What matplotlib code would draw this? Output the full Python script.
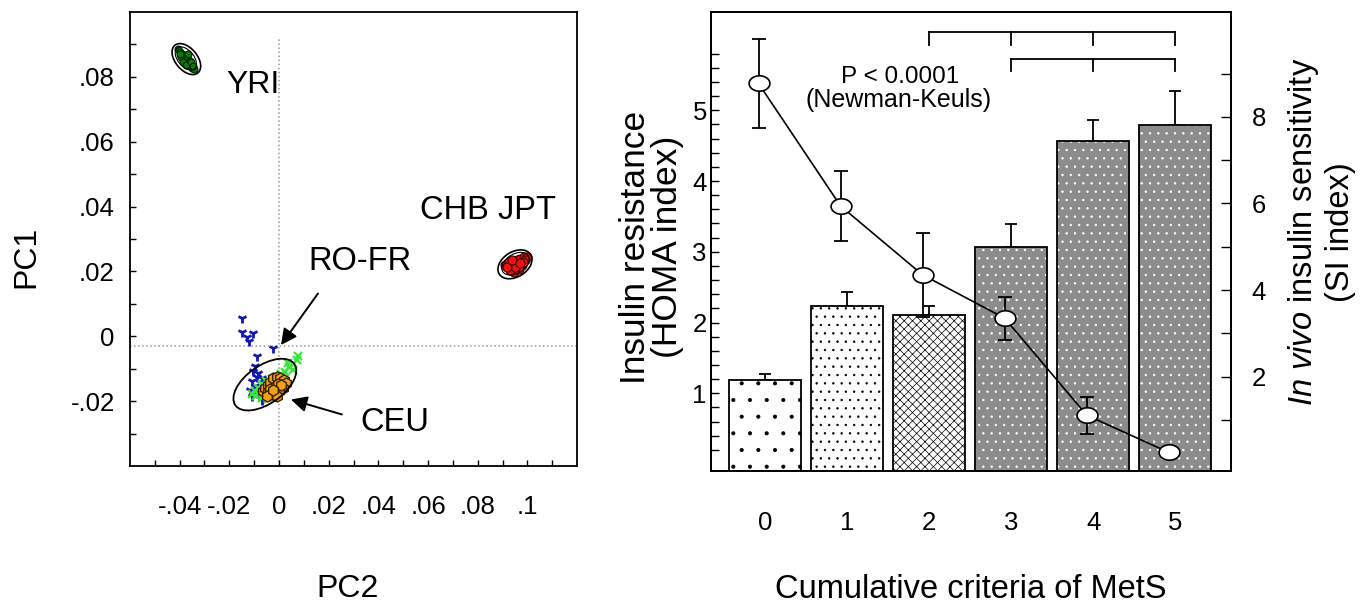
import numpy as np
import matplotlib
matplotlib.use('Agg')
import matplotlib.pyplot as plt
from matplotlib import transforms
from matplotlib.patches import Ellipse

plt.rcParams['font.family'] = ['Liberation Sans', 'DejaVu Sans']
plt.rcParams['mathtext.fontset'] = 'custom'
plt.rcParams['mathtext.rm'] = 'Liberation Sans'
plt.rcParams['mathtext.it'] = 'Liberation Sans:italic'
plt.rcParams['hatch.linewidth'] = 0.5

# ---- left panel: PCA (PC2 on x, PC1 on y) ----
yri_x = [-0.0405, -0.0398, -0.0390, -0.0385, -0.0378, -0.0372, -0.0365, -0.0358, -0.0350, -0.0342,
         -0.0395, -0.0380, -0.0370, -0.0360, -0.0385, -0.0375, -0.0355, -0.0345, -0.0400, -0.0368]
yri_y = [0.0885, 0.0878, 0.0870, 0.0862, 0.0855, 0.0848, 0.0840, 0.0835, 0.0828, 0.0825,
         0.0860, 0.0868, 0.0860, 0.0850, 0.0845, 0.0838, 0.0845, 0.0835, 0.0870, 0.0872]

chb_x = [0.0911, 0.0925, 0.0938, 0.0945, 0.0958, 0.0972, 0.0985, 0.0999, 0.0979,
         0.0965, 0.0945, 0.0929, 0.0952, 0.0992, 0.0983, 0.0918, 0.0938, 0.0969]
chb_y = [0.0219, 0.0229, 0.0214, 0.0226, 0.0234, 0.0239, 0.0244, 0.0246, 0.0219,
         0.0208, 0.0198, 0.0203, 0.0215, 0.0234, 0.0229, 0.0214, 0.0234, 0.0226]

# RO-FR samples (blue)
rofr_x = [-0.0150, -0.0150, -0.0130, -0.0121, -0.0104, -0.0023, -0.0090, -0.0097, -0.0104, -0.0083,
          -0.0090, -0.0070, -0.0110, -0.0097, -0.0117, -0.0090, -0.0110, -0.0070, -0.0085, -0.0065]
rofr_y = [0.0055, 0.0014, -0.0001, -0.0016, 0.0009, -0.0037, -0.0062, -0.0093, -0.0107, -0.0113,
          -0.0124, -0.0129, -0.0139, -0.0154, -0.0165, -0.0175, -0.0185, -0.0195, -0.0159, -0.0144]

# green crosses
grn_x = [0.0073, 0.0056, 0.0040, 0.0056, 0.0024, 0.0008, -0.0008, -0.0028, -0.0052, -0.0069, -0.0085,
         -0.0097, -0.0109, -0.0093, -0.0069, -0.0044, -0.0077, -0.0056, -0.0036, 0.0036, 0.0077]
grn_y = [-0.0074, -0.0086, -0.0095, -0.0104, -0.0110, -0.0116, -0.0126, -0.0132, -0.0138, -0.0147, -0.0159,
         -0.0169, -0.0178, -0.0184, -0.0190, -0.0193, -0.0172, -0.0178, -0.0165, -0.0083, -0.0061]

ceu_x = [-0.0065, -0.0055, -0.0045, -0.0035, -0.0025, -0.0010, 0.0005, 0.0020, 0.0030, 0.0015, 0.0000,
         -0.0015, -0.0030, -0.0045, -0.0020, -0.0005, -0.0035, 0.0010, -0.0050, -0.0010, -0.0025]
ceu_y = [-0.0170, -0.0160, -0.0150, -0.0140, -0.0130, -0.0125, -0.0130, -0.0135, -0.0145, -0.0160, -0.0170,
         -0.0180, -0.0178, -0.0172, -0.0155, -0.0148, -0.0162, -0.0150, -0.0185, -0.0185, -0.0165]

pc_xticks = [-0.04, -0.02, 0, 0.02, 0.04, 0.06, 0.08, 0.1]
pc_xlabels = ['-.04', '-.02', '0', '.02', '.04', '.06', '.08', '.1']
pc_yticks = [-0.02, 0, 0.02, 0.04, 0.06, 0.08]
pc_ylabels = ['-.02', '0', '.02', '.04', '.06', '.08']

# ---- right panel: MetS criteria ----
criteria = [0, 1, 2, 3, 4, 5]
homa = [1.18, 2.235, 2.11, 3.07, 4.57, 4.79]
homa_err = [0.09, 0.19, 0.12, 0.32, 0.30, 0.48]
si = [8.77, 5.94, 4.35, 3.35, 1.11, 0.25]
si_err = [1.02, 0.81, 0.97, 0.50, 0.43, 0.0]
sig_upper = [2, 3, 4, 5]
sig_lower = [3, 4, 5]

fig = plt.figure(figsize=(13.71, 6.03), dpi=100)

# ================= left panel =================
ax = fig.add_axes([0.0948, 0.2272, 0.3261, 0.7528])
ax.set_xlim(-0.06, 0.12)
ax.set_ylim(-0.04, 0.1)

ax.axvline(0, ymax=0.94, color='#999999', ls=':', lw=1.1, zorder=1)
ax.axhline(-0.003, color='#999999', ls=':', lw=1.1, zorder=1)

ax.plot(rofr_x, rofr_y, ls='none', marker='1', ms=7, mew=2, color='#1515b5', zorder=3)
ax.plot(grn_x, grn_y, ls='none', marker='x', ms=6, mew=1.6, color='#3be63b', zorder=3)
ax.plot(ceu_x, ceu_y, ls='none', marker='h', ms=8, mfc='#f0a010', mec='#3a2000', mew=1, zorder=4)
ax.plot(yri_x, yri_y, ls='none', marker='o', ms=5, mfc='#0a7a0a', mec='#002200', mew=0.8, zorder=4)
ax.plot(chb_x, chb_y, ls='none', marker='o', ms=6.5, mfc='#ee1111', mec='#400000', mew=0.8, zorder=4)


def ring(a, cx, cy, w, h, ang, lw=1.2):
    tr = fig.dpi_scale_trans + transforms.ScaledTranslation(cx, cy, a.transData)
    a.add_patch(Ellipse((0, 0), w, h, angle=ang, transform=tr, fill=False,
                        ec='black', lw=lw, zorder=5))


ring(ax, -0.0373, 0.0855, 0.36, 0.22, -50)
ring(ax, -0.0375, 0.0857, 0.27, 0.16, -50, 0.8)
ring(ax, 0.0950, 0.0222, 0.37, 0.25, 32)
ring(ax, 0.0952, 0.0224, 0.30, 0.19, 32, 0.8)
ring(ax, -0.0057, -0.0149, 0.72, 0.38, 35, 1.3)

ax.text(-0.0210, 0.0776, 'YRI', fontsize=23, va='center', ha='left')
ax.text(0.0569, 0.0387, 'CHB JPT', fontsize=23.5, va='center', ha='left')
ax.text(0.0117, 0.0231, 'RO-FR', fontsize=23.5, va='center', ha='left')
ax.text(0.0327, -0.0267, 'CEU', fontsize=23.5, va='center', ha='left')
arrow = dict(arrowstyle='-|>', mutation_scale=24, lw=1.4, color='black', shrinkA=0, shrinkB=0)
ax.annotate('', xy=(0.0008, -0.0027), xytext=(0.0157, 0.0132), arrowprops=arrow)
ax.annotate('', xy=(0.0048, -0.0195), xytext=(0.0253, -0.0241), arrowprops=arrow)

ax.set_xticks(pc_xticks)
ax.set_xticklabels(pc_xlabels)
ax.set_yticks(pc_yticks)
ax.set_yticklabels(pc_ylabels)
ax.set_xticks(np.arange(-0.05, 0.115, 0.01), minor=True)
ax.set_yticks(np.arange(-0.03, 0.095, 0.01), minor=True)
ax.tick_params(which='both', direction='in', length=4, width=1, labelsize=18.5)
ax.tick_params(axis='x', pad=21)
ax.tick_params(axis='y', pad=11)
for s in ax.spines.values():
    s.set_linewidth(1.3)

fig.text(0.0195, 0.574, 'PC1', rotation=90, fontsize=23, ha='center', va='center')
fig.text(0.2538, 0.0232, 'PC2', fontsize=23, ha='center', va='center')

# ================= right panel =================
bx = fig.add_axes([0.5186, 0.2189, 0.3793, 0.7611])
bx.set_xlim(-0.66, 5.68)
bx.set_ylim(-0.1, 6.39)
base = -0.1
heights = [v - base for v in homa]
hatches = ['.', '..', 'xxxx', '..', '..', '..']
for i, c in enumerate(criteria):
    if i < 3:
        bx.bar(c, heights[i], bottom=base, width=0.875, facecolor='white', edgecolor='black',
               hatch=hatches[i], lw=1.3, zorder=2)
    else:
        bx.bar(c, heights[i], bottom=base, width=0.875, facecolor='#8c8c8c', edgecolor='white',
               hatch=hatches[i], lw=0, zorder=2)
        bx.bar(c, heights[i], bottom=base, width=0.875, facecolor='none', edgecolor='black',
               lw=1.3, zorder=3)
bx.errorbar(criteria, homa, yerr=[np.zeros(len(homa)), homa_err], fmt='none', ecolor='black',
            elinewidth=1.3, capsize=4, capthick=1.3, zorder=1)

# significance brackets
up_y, up_tip = 6.11, 5.92
lo_y, lo_tip = 5.72, 5.56
bx.plot([sig_upper[0], sig_upper[-1]], [up_y, up_y], color='black', lw=1.3)
for c in sig_upper:
    bx.plot([c, c], [up_y, up_tip], color='black', lw=1.3)
bx.plot([sig_lower[0], sig_lower[-1]], [lo_y, lo_y], color='black', lw=1.3)
for c in sig_lower:
    bx.plot([c, c], [lo_y, lo_tip], color='black', lw=1.3)

bx.text(1.65, 5.47, 'P < 0.0001', fontsize=17.5, ha='center', va='center')
bx.text(1.63, 5.14, '(Newman-Keuls)', fontsize=18, ha='center', va='center')

bx.set_xticks(criteria)
bx.set_yticks([1, 2, 3, 4, 5])
bx.set_yticks(np.arange(0.2, 5.81, 0.2), minor=True)
bx.tick_params(axis='x', length=0, pad=29, labelsize=18.5)
bx.tick_params(axis='y', which='both', direction='in', length=5.5, width=1, labelsize=18.5, pad=3)
for s in bx.spines.values():
    s.set_linewidth(1.3)

# SI line on the right axis
sx = bx.twinx()
sx.set_ylim(-0.18, 10.42)
xs = np.array(criteria) - 0.08
sx.errorbar(xs, si, yerr=si_err, fmt='none', ecolor='black', elinewidth=1.3, capsize=5,
            capthick=1.3, zorder=3)
t = np.linspace(0, 2 * np.pi, 40)
oval = np.column_stack([1.35 * np.cos(t), np.sin(t)])
sx.plot(xs, si, color='black', lw=1.2, marker=oval, ms=15, mfc='white', mec='black',
        mew=1.2, zorder=4)
sx.set_yticks([2, 4, 6, 8])
sx.set_yticks(np.arange(1, 10, 1), minor=True)
sx.tick_params(axis='y', which='both', direction='in', length=7.5, width=1, labelsize=18.5, pad=15)
for s in sx.spines.values():
    s.set_linewidth(1.3)

fig.text(0.4752, 0.5904, 'Insulin resistance\n(HOMA index)', rotation=90, fontsize=25.5,
         ha='center', va='center', linespacing=0.98)
fig.text(0.9635, 0.615, r'$\it{In\ vivo}$ insulin sensitivity' + '\n(SI index)', rotation=90,
         fontsize=23.5, ha='center', va='center', linespacing=1.2)
fig.text(0.708, 0.0216, 'Cumulative criteria of MetS', fontsize=23.5, ha='center', va='center')

fig.savefig('out.png', dpi=100)
